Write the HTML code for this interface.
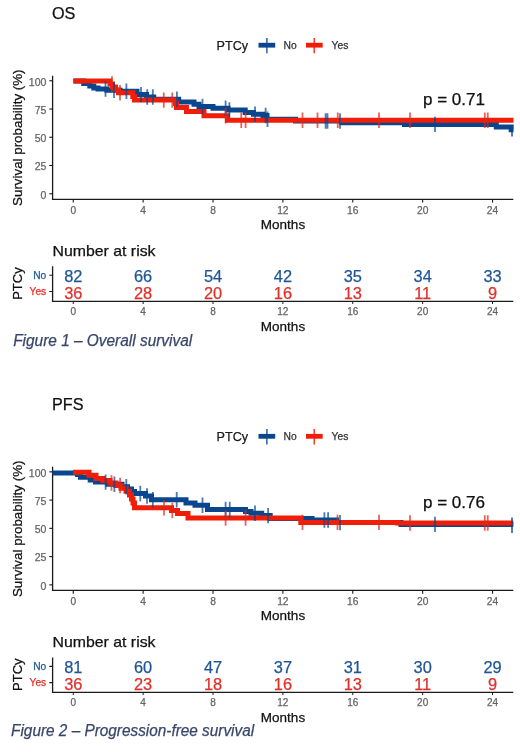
<!DOCTYPE html>
<html><head><meta charset="utf-8"><title>Survival curves</title>
<style>
html,body{margin:0;padding:0;background:#fff;}
body{width:520px;height:752px;overflow:hidden;}
svg{display:block;font-family:"Liberation Sans", sans-serif;filter:blur(0.4px);}
text{stroke-width:0.25px;}
</style></head>
<body>
<svg width="520" height="752" viewBox="0 0 520 752">
<rect width="520" height="752" fill="#fff"/>
<g>
<text x="52" y="19.1" font-size="16.2" fill="#111" stroke="#111">OS</text>
<text x="216.6" y="49.7" font-size="12.6" fill="#1a1a1a" stroke="#1a1a1a">PTCy</text>
<path d="M258.5 45.2 H275.2" stroke="#0a468e" stroke-width="4.8"/>
<path d="M266.9 38 V53.3" stroke="#0a468e" stroke-width="1.3"/>
<text x="283.6" y="48.8" font-size="10.3" fill="#333" stroke="#333">No</text>
<path d="M306 45.2 H322.7" stroke="#f01e08" stroke-width="4.8"/>
<path d="M314.2 38 V53.3" stroke="#f01e08" stroke-width="1.3"/>
<text x="331.6" y="48.8" font-size="10.3" fill="#333" stroke="#333">Yes</text>
<path d="M52.6 75.7 V199.3 H513.3" stroke="#1a1a1a" stroke-width="1.3" fill="none"/>
<path d="M49.3 80.75 H52.6" stroke="#1a1a1a" stroke-width="1.1"/>
<text x="46.4" y="85.65" font-size="10.5" fill="#646464" text-anchor="end" stroke="#646464">100</text>
<path d="M49.3 109.00 H52.6" stroke="#1a1a1a" stroke-width="1.1"/>
<text x="46.4" y="113.90" font-size="10.5" fill="#646464" text-anchor="end" stroke="#646464">75</text>
<path d="M49.3 137.25 H52.6" stroke="#1a1a1a" stroke-width="1.1"/>
<text x="46.4" y="142.15" font-size="10.5" fill="#646464" text-anchor="end" stroke="#646464">50</text>
<path d="M49.3 165.50 H52.6" stroke="#1a1a1a" stroke-width="1.1"/>
<text x="46.4" y="170.40" font-size="10.5" fill="#646464" text-anchor="end" stroke="#646464">25</text>
<path d="M49.3 193.75 H52.6" stroke="#1a1a1a" stroke-width="1.1"/>
<text x="46.4" y="198.65" font-size="10.5" fill="#646464" text-anchor="end" stroke="#646464">0</text>
<path d="M73.25 199.3 V202.6" stroke="#1a1a1a" stroke-width="1.1"/>
<text x="73.25" y="213.6" font-size="10.2" fill="#646464" text-anchor="middle" stroke="#646464">0</text>
<path d="M143.13 199.3 V202.6" stroke="#1a1a1a" stroke-width="1.1"/>
<text x="143.13" y="213.6" font-size="10.2" fill="#646464" text-anchor="middle" stroke="#646464">4</text>
<path d="M213.01 199.3 V202.6" stroke="#1a1a1a" stroke-width="1.1"/>
<text x="213.01" y="213.6" font-size="10.2" fill="#646464" text-anchor="middle" stroke="#646464">8</text>
<path d="M282.89 199.3 V202.6" stroke="#1a1a1a" stroke-width="1.1"/>
<text x="282.89" y="213.6" font-size="10.2" fill="#646464" text-anchor="middle" stroke="#646464">12</text>
<path d="M352.77 199.3 V202.6" stroke="#1a1a1a" stroke-width="1.1"/>
<text x="352.77" y="213.6" font-size="10.2" fill="#646464" text-anchor="middle" stroke="#646464">16</text>
<path d="M422.65 199.3 V202.6" stroke="#1a1a1a" stroke-width="1.1"/>
<text x="422.65" y="213.6" font-size="10.2" fill="#646464" text-anchor="middle" stroke="#646464">20</text>
<path d="M492.53 199.3 V202.6" stroke="#1a1a1a" stroke-width="1.1"/>
<text x="492.53" y="213.6" font-size="10.2" fill="#646464" text-anchor="middle" stroke="#646464">24</text>
<text x="283" y="228.8" font-size="13.5" fill="#111" text-anchor="middle" stroke="#111">Months</text>
<text transform="translate(21.6 137.7) rotate(-90)" font-size="12.6" fill="#111" text-anchor="middle" textLength="136.5" lengthAdjust="spacingAndGlyphs" stroke="#111">Survival probability (%)</text>
<g fill="none" stroke-linejoin="miter" stroke-linecap="butt">
<path d="M73.40 81.00 H83.70 V83.60 H89.80 V86.00 H93.80 V88.00 H98.00 V89.00 H107.00 V90.20 H120.00 V91.20 H137.00 V94.60 H146.50 V97.00 H153.70 V99.20 H178.70 V102.10 H194.00 V104.30 H199.00 V106.50 H213.00 V108.30 H228.00 V109.90 H245.20 V112.50 H253.50 V114.20 H263.00 V115.50 H267.00 V119.30 H295.50 V121.00 H342.00 V122.70 H404.50 V124.40 H496.30 V126.90 H511.20 V129.80 H513.50" stroke="#0a468e" stroke-width="5"/>
<path d="M73.40 81.00 H110.00 V84.00 H112.50 V87.00 H115.50 V90.00 H118.50 V92.80 H132.80 V96.40 H134.50 V100.10 H175.50 V103.60 H176.50 V107.40 H186.50 V111.60 H204.00 V115.80 H227.50 V120.20 H513.50" stroke="#f01e08" stroke-width="5"/>
<path d="M105.50 81.30 V96.70 M114.00 82.50 V97.90 M126.40 83.50 V98.90 M141.00 86.90 V102.30 M147.20 89.30 V104.70 M152.80 89.30 V104.70 M176.90 91.50 V106.90 M202.50 98.80 V114.20 M225.60 100.60 V116.00 M229.40 102.20 V117.60 M255.00 106.50 V121.90 M265.60 107.80 V123.20 M267.50 111.60 V127.00 M325.60 113.30 V128.70 M327.50 113.30 V128.70 M340.00 113.30 V128.70 M435.00 116.70 V132.10 " stroke="#0a468e" stroke-width="1.8" stroke-opacity="0.72"/>
<path d="M112.00 76.30 V91.70 M120.00 85.10 V100.50 M163.75 92.40 V107.80 M172.25 92.40 V107.80 M225.60 108.10 V123.50 M241.25 112.50 V127.90 M245.60 112.50 V127.90 M302.50 112.50 V127.90 M317.50 112.50 V127.90 M337.75 112.50 V127.90 M379.00 112.50 V127.90 M410.00 112.50 V127.90 M484.75 112.50 V127.90 M487.75 112.50 V127.90 " stroke="#dc2a1c" stroke-width="1.8" stroke-opacity="0.72"/>
<path d="M512 125.40 V136.40" stroke="#0a468e" stroke-width="1.4"/>
</g>
<text x="423.00" y="105.10" font-size="15.6" fill="#111" textLength="62" lengthAdjust="spacingAndGlyphs" stroke="#111">p = 0.71</text>
<text x="52.5" y="255.6" font-size="14.6" fill="#111" textLength="103" lengthAdjust="spacingAndGlyphs" stroke="#111">Number at risk</text>
<path d="M52.6 266.3 V301.3 H513.3" stroke="#1a1a1a" stroke-width="1.3" fill="none"/>
<path d="M49.3 275.3 H52.6 M49.3 291.5 H52.6" stroke="#1a1a1a" stroke-width="1.1"/>
<text x="46.2" y="278.9" font-size="10.2" fill="#1f5596" text-anchor="end" stroke="#1f5596">No</text>
<text x="46.2" y="295" font-size="10.2" fill="#e0302a" text-anchor="end" stroke="#e0302a">Yes</text>
<text transform="translate(21.7 283.6) rotate(-90)" font-size="12.8" fill="#111" text-anchor="middle" textLength="32.5" lengthAdjust="spacingAndGlyphs" stroke="#111">PTCy</text>
<text x="73.25" y="281.8" font-size="16.4" fill="#1f5596" text-anchor="middle" stroke="#1f5596">82</text>
<text x="73.25" y="298.9" font-size="16.4" fill="#e0302a" text-anchor="middle" stroke="#e0302a">36</text>
<path d="M73.25 301.3 V304" stroke="#1a1a1a" stroke-width="1"/>
<text x="73.25" y="315.1" font-size="10" fill="#646464" text-anchor="middle" stroke="#646464">0</text>
<text x="143.13" y="281.8" font-size="16.4" fill="#1f5596" text-anchor="middle" stroke="#1f5596">66</text>
<text x="143.13" y="298.9" font-size="16.4" fill="#e0302a" text-anchor="middle" stroke="#e0302a">28</text>
<path d="M143.13 301.3 V304" stroke="#1a1a1a" stroke-width="1"/>
<text x="143.13" y="315.1" font-size="10" fill="#646464" text-anchor="middle" stroke="#646464">4</text>
<text x="213.01" y="281.8" font-size="16.4" fill="#1f5596" text-anchor="middle" stroke="#1f5596">54</text>
<text x="213.01" y="298.9" font-size="16.4" fill="#e0302a" text-anchor="middle" stroke="#e0302a">20</text>
<path d="M213.01 301.3 V304" stroke="#1a1a1a" stroke-width="1"/>
<text x="213.01" y="315.1" font-size="10" fill="#646464" text-anchor="middle" stroke="#646464">8</text>
<text x="282.89" y="281.8" font-size="16.4" fill="#1f5596" text-anchor="middle" stroke="#1f5596">42</text>
<text x="282.89" y="298.9" font-size="16.4" fill="#e0302a" text-anchor="middle" stroke="#e0302a">16</text>
<path d="M282.89 301.3 V304" stroke="#1a1a1a" stroke-width="1"/>
<text x="282.89" y="315.1" font-size="10" fill="#646464" text-anchor="middle" stroke="#646464">12</text>
<text x="352.77" y="281.8" font-size="16.4" fill="#1f5596" text-anchor="middle" stroke="#1f5596">35</text>
<text x="352.77" y="298.9" font-size="16.4" fill="#e0302a" text-anchor="middle" stroke="#e0302a">13</text>
<path d="M352.77 301.3 V304" stroke="#1a1a1a" stroke-width="1"/>
<text x="352.77" y="315.1" font-size="10" fill="#646464" text-anchor="middle" stroke="#646464">16</text>
<text x="422.65" y="281.8" font-size="16.4" fill="#1f5596" text-anchor="middle" stroke="#1f5596">34</text>
<text x="422.65" y="298.9" font-size="16.4" fill="#e0302a" text-anchor="middle" stroke="#e0302a">11</text>
<path d="M422.65 301.3 V304" stroke="#1a1a1a" stroke-width="1"/>
<text x="422.65" y="315.1" font-size="10" fill="#646464" text-anchor="middle" stroke="#646464">20</text>
<text x="492.53" y="281.8" font-size="16.4" fill="#1f5596" text-anchor="middle" stroke="#1f5596">33</text>
<text x="492.53" y="298.9" font-size="16.4" fill="#e0302a" text-anchor="middle" stroke="#e0302a">9</text>
<path d="M492.53 301.3 V304" stroke="#1a1a1a" stroke-width="1"/>
<text x="492.53" y="315.1" font-size="10" fill="#646464" text-anchor="middle" stroke="#646464">24</text>
<text x="283" y="330.6" font-size="13.5" fill="#111" text-anchor="middle" stroke="#111">Months</text>
</g>
<g transform="translate(0 391.10)">
<text x="52" y="19.1" font-size="16.2" fill="#111" stroke="#111">PFS</text>
<text x="216.6" y="49.7" font-size="12.6" fill="#1a1a1a" stroke="#1a1a1a">PTCy</text>
<path d="M258.5 45.2 H275.2" stroke="#0a468e" stroke-width="4.8"/>
<path d="M266.9 38 V53.3" stroke="#0a468e" stroke-width="1.3"/>
<text x="283.6" y="48.8" font-size="10.3" fill="#333" stroke="#333">No</text>
<path d="M306 45.2 H322.7" stroke="#f01e08" stroke-width="4.8"/>
<path d="M314.2 38 V53.3" stroke="#f01e08" stroke-width="1.3"/>
<text x="331.6" y="48.8" font-size="10.3" fill="#333" stroke="#333">Yes</text>
<path d="M52.6 75.7 V199.3 H513.3" stroke="#1a1a1a" stroke-width="1.3" fill="none"/>
<path d="M49.3 80.75 H52.6" stroke="#1a1a1a" stroke-width="1.1"/>
<text x="46.4" y="85.65" font-size="10.5" fill="#646464" text-anchor="end" stroke="#646464">100</text>
<path d="M49.3 109.00 H52.6" stroke="#1a1a1a" stroke-width="1.1"/>
<text x="46.4" y="113.90" font-size="10.5" fill="#646464" text-anchor="end" stroke="#646464">75</text>
<path d="M49.3 137.25 H52.6" stroke="#1a1a1a" stroke-width="1.1"/>
<text x="46.4" y="142.15" font-size="10.5" fill="#646464" text-anchor="end" stroke="#646464">50</text>
<path d="M49.3 165.50 H52.6" stroke="#1a1a1a" stroke-width="1.1"/>
<text x="46.4" y="170.40" font-size="10.5" fill="#646464" text-anchor="end" stroke="#646464">25</text>
<path d="M49.3 193.75 H52.6" stroke="#1a1a1a" stroke-width="1.1"/>
<text x="46.4" y="198.65" font-size="10.5" fill="#646464" text-anchor="end" stroke="#646464">0</text>
<path d="M73.25 199.3 V202.6" stroke="#1a1a1a" stroke-width="1.1"/>
<text x="73.25" y="213.6" font-size="10.2" fill="#646464" text-anchor="middle" stroke="#646464">0</text>
<path d="M143.13 199.3 V202.6" stroke="#1a1a1a" stroke-width="1.1"/>
<text x="143.13" y="213.6" font-size="10.2" fill="#646464" text-anchor="middle" stroke="#646464">4</text>
<path d="M213.01 199.3 V202.6" stroke="#1a1a1a" stroke-width="1.1"/>
<text x="213.01" y="213.6" font-size="10.2" fill="#646464" text-anchor="middle" stroke="#646464">8</text>
<path d="M282.89 199.3 V202.6" stroke="#1a1a1a" stroke-width="1.1"/>
<text x="282.89" y="213.6" font-size="10.2" fill="#646464" text-anchor="middle" stroke="#646464">12</text>
<path d="M352.77 199.3 V202.6" stroke="#1a1a1a" stroke-width="1.1"/>
<text x="352.77" y="213.6" font-size="10.2" fill="#646464" text-anchor="middle" stroke="#646464">16</text>
<path d="M422.65 199.3 V202.6" stroke="#1a1a1a" stroke-width="1.1"/>
<text x="422.65" y="213.6" font-size="10.2" fill="#646464" text-anchor="middle" stroke="#646464">20</text>
<path d="M492.53 199.3 V202.6" stroke="#1a1a1a" stroke-width="1.1"/>
<text x="492.53" y="213.6" font-size="10.2" fill="#646464" text-anchor="middle" stroke="#646464">24</text>
<text x="283" y="228.8" font-size="13.5" fill="#111" text-anchor="middle" stroke="#111">Months</text>
<text transform="translate(21.6 137.7) rotate(-90)" font-size="12.6" fill="#111" text-anchor="middle" textLength="136.5" lengthAdjust="spacingAndGlyphs" stroke="#111">Survival probability (%)</text>
<g fill="none" stroke-linejoin="miter" stroke-linecap="butt">
<path d="M52.50 81.90 H77.50 V83.40 H80.50 V86.10 H90.20 V88.90 H95.50 V91.00 H107.90 V93.10 H122.00 V95.60 H127.50 V97.90 H131.50 V100.40 H134.50 V102.40 H145.50 V104.90 H151.50 V108.70 H186.00 V111.90 H195.00 V114.10 H207.50 V118.40 H245.50 V120.40 H251.00 V122.10 H261.70 V124.50 H270.20 V127.50 H312.00 V128.90 H336.50 V131.50 H401.00 V133.30 H513.30" stroke="#0a468e" stroke-width="5"/>
<path d="M73.00 81.20 H89.00 V84.10 H96.00 V87.30 H103.00 V89.50 H110.00 V91.90 H116.00 V94.40 H121.00 V97.20 H126.00 V100.20 H129.50 V103.90 H131.50 V107.90 H133.00 V111.90 H134.50 V116.70 H171.50 V119.40 H177.50 V122.30 H188.00 V127.00 H300.80 V131.30 H397.50 V131.90 H513.30" stroke="#f01e08" stroke-width="5"/>
<path d="M105.60 83.30 V98.70 M114.40 85.40 V100.80 M126.30 87.90 V103.30 M140.30 94.70 V110.10 M147.00 97.20 V112.60 M152.80 101.00 V116.40 M176.70 101.00 V116.40 M202.50 106.40 V121.80 M225.60 110.70 V126.10 M229.75 110.70 V126.10 M255.00 114.40 V129.80 M268.10 116.80 V132.20 M324.40 121.20 V136.60 M328.10 121.20 V136.60 M340.00 123.80 V139.20 M435.00 125.60 V141.00 " stroke="#0a468e" stroke-width="1.8" stroke-opacity="0.72"/>
<path d="M111.50 84.20 V99.60 M120.10 86.70 V102.10 M164.00 109.00 V124.40 M172.30 111.70 V127.10 M225.60 119.30 V134.70 M245.60 119.30 V134.70 M302.50 123.60 V139.00 M337.50 123.60 V139.00 M379.00 123.60 V139.00 M410.00 124.20 V139.60 M484.75 124.20 V139.60 M487.75 124.20 V139.60 " stroke="#dc2a1c" stroke-width="1.8" stroke-opacity="0.72"/>
<path d="M512 126.40 V141.90" stroke="#0a468e" stroke-width="1.4"/>
</g>
<text x="423.00" y="116.50" font-size="15.6" fill="#111" textLength="62" lengthAdjust="spacingAndGlyphs" stroke="#111">p = 0.76</text>
<text x="52.5" y="255.6" font-size="14.6" fill="#111" textLength="103" lengthAdjust="spacingAndGlyphs" stroke="#111">Number at risk</text>
<path d="M52.6 266.3 V301.3 H513.3" stroke="#1a1a1a" stroke-width="1.3" fill="none"/>
<path d="M49.3 275.3 H52.6 M49.3 291.5 H52.6" stroke="#1a1a1a" stroke-width="1.1"/>
<text x="46.2" y="278.9" font-size="10.2" fill="#1f5596" text-anchor="end" stroke="#1f5596">No</text>
<text x="46.2" y="295" font-size="10.2" fill="#e0302a" text-anchor="end" stroke="#e0302a">Yes</text>
<text transform="translate(21.7 283.6) rotate(-90)" font-size="12.8" fill="#111" text-anchor="middle" textLength="32.5" lengthAdjust="spacingAndGlyphs" stroke="#111">PTCy</text>
<text x="73.25" y="281.8" font-size="16.4" fill="#1f5596" text-anchor="middle" stroke="#1f5596">81</text>
<text x="73.25" y="298.9" font-size="16.4" fill="#e0302a" text-anchor="middle" stroke="#e0302a">36</text>
<path d="M73.25 301.3 V304" stroke="#1a1a1a" stroke-width="1"/>
<text x="73.25" y="315.1" font-size="10" fill="#646464" text-anchor="middle" stroke="#646464">0</text>
<text x="143.13" y="281.8" font-size="16.4" fill="#1f5596" text-anchor="middle" stroke="#1f5596">60</text>
<text x="143.13" y="298.9" font-size="16.4" fill="#e0302a" text-anchor="middle" stroke="#e0302a">23</text>
<path d="M143.13 301.3 V304" stroke="#1a1a1a" stroke-width="1"/>
<text x="143.13" y="315.1" font-size="10" fill="#646464" text-anchor="middle" stroke="#646464">4</text>
<text x="213.01" y="281.8" font-size="16.4" fill="#1f5596" text-anchor="middle" stroke="#1f5596">47</text>
<text x="213.01" y="298.9" font-size="16.4" fill="#e0302a" text-anchor="middle" stroke="#e0302a">18</text>
<path d="M213.01 301.3 V304" stroke="#1a1a1a" stroke-width="1"/>
<text x="213.01" y="315.1" font-size="10" fill="#646464" text-anchor="middle" stroke="#646464">8</text>
<text x="282.89" y="281.8" font-size="16.4" fill="#1f5596" text-anchor="middle" stroke="#1f5596">37</text>
<text x="282.89" y="298.9" font-size="16.4" fill="#e0302a" text-anchor="middle" stroke="#e0302a">16</text>
<path d="M282.89 301.3 V304" stroke="#1a1a1a" stroke-width="1"/>
<text x="282.89" y="315.1" font-size="10" fill="#646464" text-anchor="middle" stroke="#646464">12</text>
<text x="352.77" y="281.8" font-size="16.4" fill="#1f5596" text-anchor="middle" stroke="#1f5596">31</text>
<text x="352.77" y="298.9" font-size="16.4" fill="#e0302a" text-anchor="middle" stroke="#e0302a">13</text>
<path d="M352.77 301.3 V304" stroke="#1a1a1a" stroke-width="1"/>
<text x="352.77" y="315.1" font-size="10" fill="#646464" text-anchor="middle" stroke="#646464">16</text>
<text x="422.65" y="281.8" font-size="16.4" fill="#1f5596" text-anchor="middle" stroke="#1f5596">30</text>
<text x="422.65" y="298.9" font-size="16.4" fill="#e0302a" text-anchor="middle" stroke="#e0302a">11</text>
<path d="M422.65 301.3 V304" stroke="#1a1a1a" stroke-width="1"/>
<text x="422.65" y="315.1" font-size="10" fill="#646464" text-anchor="middle" stroke="#646464">20</text>
<text x="492.53" y="281.8" font-size="16.4" fill="#1f5596" text-anchor="middle" stroke="#1f5596">29</text>
<text x="492.53" y="298.9" font-size="16.4" fill="#e0302a" text-anchor="middle" stroke="#e0302a">9</text>
<path d="M492.53 301.3 V304" stroke="#1a1a1a" stroke-width="1"/>
<text x="492.53" y="315.1" font-size="10" fill="#646464" text-anchor="middle" stroke="#646464">24</text>
<text x="283" y="330.6" font-size="13.5" fill="#111" text-anchor="middle" stroke="#111">Months</text>
</g>
<text x="13.2" y="345.5" font-size="15.8" font-style="italic" fill="#38466a" stroke="#38466a" stroke-width="0.3" textLength="179" lengthAdjust="spacingAndGlyphs">Figure 1 – Overall survival</text>
<text x="11.1" y="736" font-size="15.8" font-style="italic" fill="#38466a" stroke="#38466a" stroke-width="0.3" textLength="243" lengthAdjust="spacingAndGlyphs">Figure 2 – Progression-free survival</text>
</svg>
</body></html>
